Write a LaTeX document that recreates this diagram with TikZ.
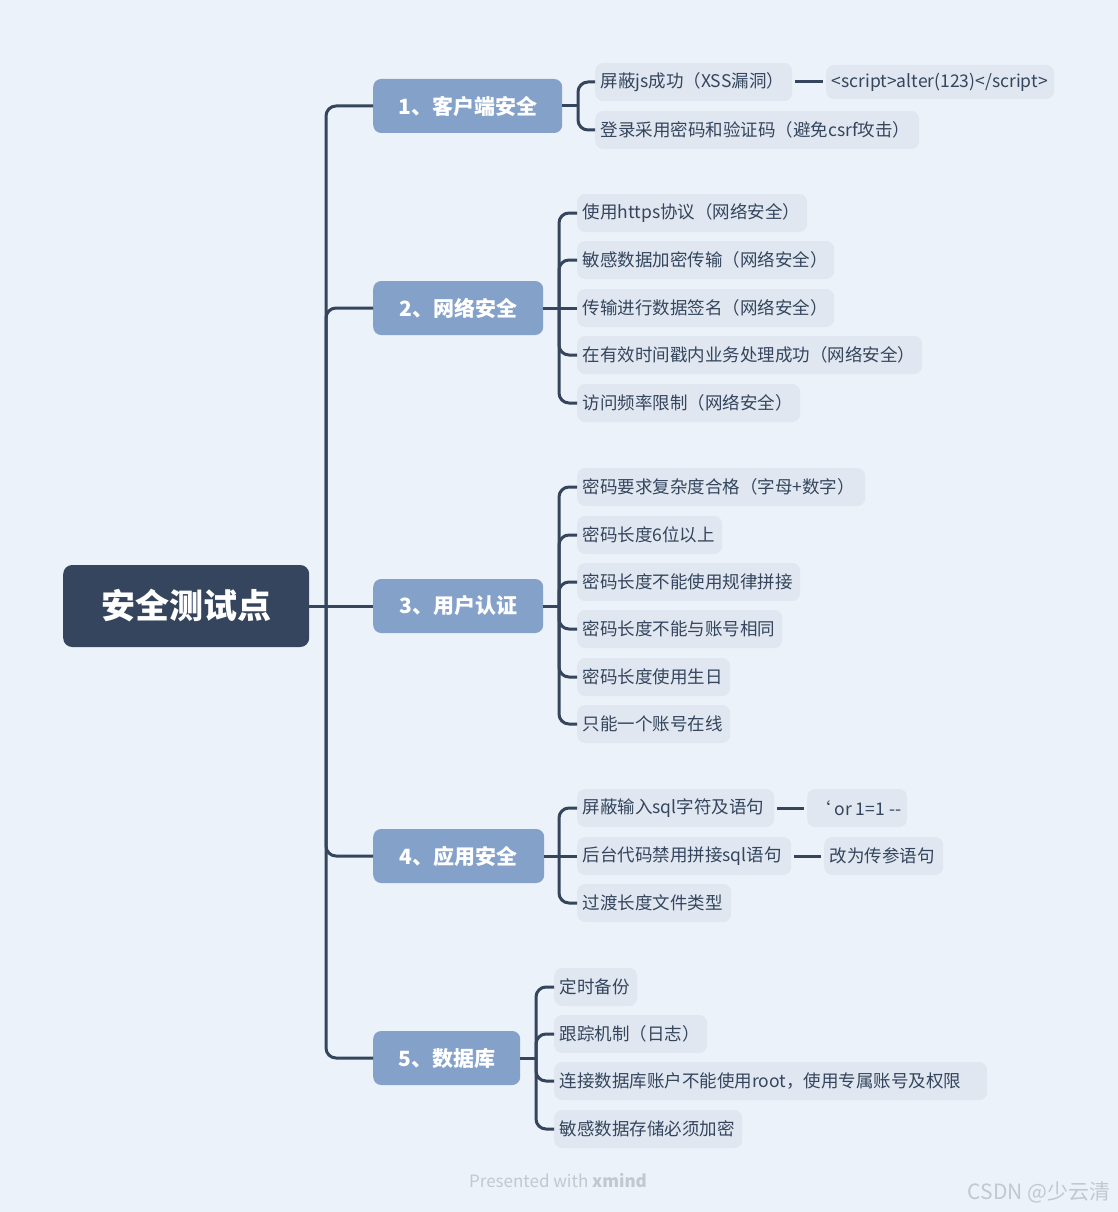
\documentclass[tikz,border=0pt]{standalone}
\usepackage{fontspec}
\setmainfont{Noto Sans CJK SC}
\definecolor{bgc}{HTML}{ECF2F9}
\definecolor{leafc}{HTML}{E0E7F0}
\definecolor{lvlc}{HTML}{84A1C9}
\definecolor{rootc}{HTML}{34455D}
\definecolor{txtc}{HTML}{34455D}
\definecolor{footc}{HTML}{C2C8CE}
\tikzset{
  leafbase/.style={fill=leafc, rounded corners=8pt, minimum height=38pt, inner xsep=6pt, inner ysep=0pt, anchor=west, text=txtc, font=\fontsize{17.5}{18}\selectfont},
  leaf/.style={leafbase, inner xsep=5.5pt, text width=#1pt, align=left},
  lvl/.style={fill=lvlc, rounded corners=8pt, minimum height=54pt, inner sep=0pt, anchor=west, text=white, font=\fontsize{21}{21}\selectfont\bfseries},
  rootbox/.style={fill=rootc, rounded corners=9pt, minimum height=82pt, minimum width=246pt, inner sep=0pt, anchor=west, text=white, font=\fontsize{34}{34}\selectfont\bfseries},
  conn/.style={draw=rootc, line width=3pt},
  elbow/.style={conn, rounded corners=10pt}
}
\begin{document}
\begin{tikzpicture}[x=1pt,y=-1pt]
\useasboundingbox[fill=bgc] (0,0) rectangle (1118,1212);

% root
\node[rootbox] (root) at (63,606) {安全测试点};

% level 1
\node[lvl, minimum width=189pt] (n1) at (373,106) {1、客户端安全};
\node[lvl, minimum width=170pt] (n2) at (373,308) {2、网络安全};
\node[lvl, minimum width=170pt] (n3) at (373,606) {3、用户认证};
\node[lvl, minimum width=171pt] (n4) at (373,856) {4、应用安全};
\node[lvl, minimum width=147pt] (n5) at (373,1058) {5、数据库};

% group 1
\node[leaf=186] (c11) at (595,82) {屏蔽js成功（XSS漏洞）};
\node[leaf=313] (c12) at (595,130) {登录采用密码和验证码（避免csrf攻击）};
\node[leaf=217, minimum height=34pt] (g11) at (826,82) {<script>alter(123)</script>};

% group 2
\node[leaf=219] (c21) at (577,213) {使用https协议（网络安全）};
\node[leaf=246] (c22) at (577,260) {敏感数据加密传输（网络安全）};
\node[leaf=246] (c23) at (577,308) {传输进行数据签名（网络安全）};
\node[leaf=334] (c24) at (577,355) {在有效时间戳内业务处理成功（网络安全）};
\node[leaf=212] (c25) at (577,403) {访问频率限制（网络安全）};

% group 3
\node[leaf=277] (c31) at (577,487) {密码要求复杂度合格（字母+数字）};
\node[leaf=134] (c32) at (577,535) {密码长度6位以上};
\node[leaf=212] (c33) at (577,582) {密码长度不能使用规律拼接};
\node[leaf=194] (c34) at (577,629) {密码长度不能与账号相同};
\node[leaf=142] (c35) at (577,677) {密码长度使用生日};
\node[leaf=142] (c36) at (577,724) {只能一个账号在线};

% group 4
\node[leaf=186] (c41) at (577,808) {屏蔽输入sql字符及语句};
\node[leaf=203] (c42) at (577,856) {后台代码禁用拼接sql语句};
\node[leaf=143] (c43) at (577,903) {过渡长度文件类型};
\node[leafbase, minimum width=89pt] (g41) at (807,808) {\char96{} or 1=1 -{}-};
\node[leaf=108] (g42) at (824,856) {改为传参语句};

% group 5
\node[leaf=72] (c51) at (554,987) {定时备份};
\node[leaf=142] (c52) at (554,1034) {跟踪机制（日志）};
\node[leaf=422] (c53) at (554,1081) {连接数据库账户不能使用root，使用专属账号及权限};
\node[leaf=177] (c54) at (554,1129) {敏感数据存储必须加密};

% spine
\coordinate (s) at (326,606);
\draw[conn] (root.east) -- (s);
\foreach \n in {n1,n2,n4,n5} \draw[elbow] (s) |- (\n.west);
\draw[conn] (s) -- (n3.west);

% group 1 connectors
\coordinate (b1) at (578,106);
\draw[conn] (n1.east) -- (b1);
\foreach \c in {c11,c12} \draw[elbow] (b1) |- (\c.west);
\draw[conn] ([xshift=3pt]c11.east) -- ([xshift=-3pt]g11.west);

% group 2
\coordinate (b2) at (559,308);
\draw[conn] (n2.east) -- (b2);
\foreach \c in {c21,c22,c24,c25} \draw[elbow] (b2) |- (\c.west);
\draw[conn] (b2) -- (c23.west);

% group 3
\coordinate (b3) at (559,606);
\draw[conn] (n3.east) -- (b3);
\foreach \c in {c31,c32,c33,c34,c35,c36} \draw[elbow] (b3) |- (\c.west);

% group 4
\coordinate (b4) at (559,856);
\draw[conn] (n4.east) -- (b4);
\foreach \c in {c41,c43} \draw[elbow] (b4) |- (\c.west);
\draw[conn] (b4) -- (c42.west);
\draw[conn] ([xshift=3pt]c41.east) -- ([xshift=-3pt]g41.west);
\draw[conn] ([xshift=3pt]c42.east) -- ([xshift=-3pt]g42.west);

% group 5
\coordinate (b5) at (536,1058);
\draw[conn] (n5.east) -- (b5);
\foreach \c in {c51,c52,c53,c54} \draw[elbow] (b5) |- (\c.west);

% footer
\node[text=footc, font=\fontsize{17}{17}\selectfont] (ft) at (558,1181) {Presented with \textbf{xmind}};
\node[anchor=east, text=footc, font=\fontsize{21}{21}\selectfont] (wm) at (1114,1192) {CSDN @少云清};
\end{tikzpicture}
\end{document}
